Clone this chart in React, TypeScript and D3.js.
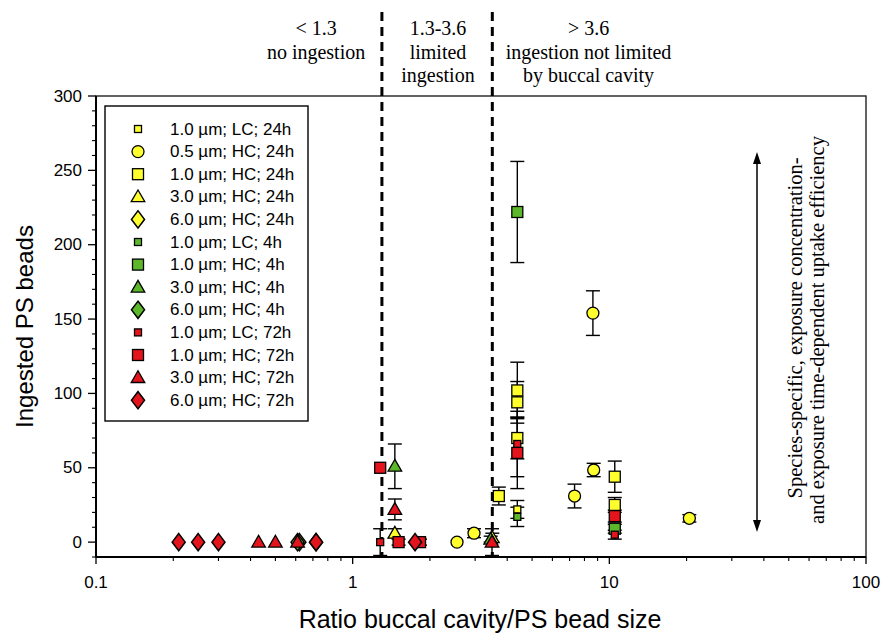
import React from "react";
import * as d3 from "d3";

type Pt = [number, number, number]; // [ratio, ingested beads, error]

// ---- data (ratio buccal cavity / bead size, ingested beads, SD) ----
const lc1_24h: Pt[] = [[4.38, 22, 6]];
const hc05_24h: Pt[] = [[2.55, 0, 0], [2.97, 6, 3], [7.32, 31, 8], [8.63, 154, 15], [8.69, 48.5, 4.5], [20.5, 16, 2.5]];
const hc1_24h: Pt[] = [[3.71, 31, 6], [4.38, 102, 19], [4.38, 94, 14], [4.38, 70, 14], [10.5, 44, 10.5], [10.5, 25, 5]];
const hc3_24h: Pt[] = [[1.46, 6, 3], [3.5, 3, 3]];
const hc6_24h: Pt[] = [[0.62, 0, 0]];
const lc1_4h: Pt[] = [[4.38, 17, 6.5]];
const hc1_4h: Pt[] = [[4.38, 222, 34], [10.5, 9, 3]];
const hc3_4h: Pt[] = [[1.46, 51, 15], [3.45, 2, 2]];
const hc6_4h: Pt[] = [[0.61, 0, 0], [0.72, 0, 0]];
const lc1_72h: Pt[] = [[1.28, 0, 9], [4.38, 66, 22], [10.5, 5, 3]];
const hc1_72h: Pt[] = [[1.28, 50, 0], [1.51, 0, 2], [1.83, 0, 2], [4.38, 60, 24], [10.5, 17.5, 4]];
const hc3_72h: Pt[] = [[0.43, 0, 0], [0.5, 0, 0], [0.61, 0, 0], [1.46, 22, 7], [3.49, 0, 9]];
const hc6_72h: Pt[] = [[0.21, 0, 0], [0.25, 0, 0], [0.3, 0, 0], [0.72, 0, 0], [1.75, 0, 0]];

const seriesLabels = [
  "1.0 µm; LC; 24h", "0.5 µm; HC; 24h", "1.0 µm; HC; 24h", "3.0 µm; HC; 24h", "6.0 µm; HC; 24h",
  "1.0 µm; LC; 4h", "1.0 µm; HC; 4h", "3.0 µm; HC; 4h", "6.0 µm; HC; 4h",
  "1.0 µm; LC; 72h", "1.0 µm; HC; 72h", "3.0 µm; HC; 72h", "6.0 µm; HC; 72h",
];
const seriesData = [lc1_24h, hc05_24h, hc1_24h, hc3_24h, hc6_24h, lc1_4h, hc1_4h, hc3_4h, hc6_4h, lc1_72h, hc1_72h, hc3_72h, hc6_72h];

const boundaries = [1.3, 3.5];
const zoneTitles = [["< 1.3", "no ingestion"], ["1.3-3.6", "limited", "ingestion"], ["> 3.6", "ingestion not limited", "by buccal cavity"]];
const zoneRatios = [0.72, 2.15, 8.3];
const xTickLabels = [0.1, 1, 10, 100];
const yTickLabels = [0, 50, 100, 150, 200, 250, 300];

// ---- styles ----
const YEL = "#ffff2e";
const GRN = "#5cb82a";
const RED = "#e3141c";
const colorOf = (i: number) => (i < 5 ? YEL : i < 9 ? GRN : RED);
const shapeOf = ["smallSq", "circle", "square", "triangle", "diamond", "smallSq", "square", "triangle", "diamond", "smallSq", "square", "triangle", "diamond"];

const W = 882, H = 635;
const x = d3.scaleLog().domain([0.1, 100]).range([96, 866]);
const y = d3.scaleLinear().domain([-10, 300]).range([557, 96]);

function Marker({ shape, cx, cy, fill }: { shape: string; cx: number; cy: number; fill: string }) {
  const st = { fill, stroke: "#000", strokeWidth: 1.3 };
  if (shape === "circle") return <circle cx={cx} cy={cy} r={6} {...st} />;
  if (shape === "square") return <rect x={cx - 5.5} y={cy - 5.5} width={11} height={11} {...st} />;
  if (shape === "smallSq") return <rect x={cx - 3.5} y={cy - 3.5} width={7} height={7} {...st} />;
  if (shape === "triangle") {
    const p = d3.symbol(d3.symbolTriangle, 80)()!;
    return <path d={p} transform={`translate(${cx},${cy + 1})`} {...st} />;
  }
  const p = d3.symbol(d3.symbolDiamond, 95)()!;
  return <path d={p} transform={`translate(${cx},${cy}) scale(1.25,0.95)`} {...st} />;
}

export default function App() {
  const majorX: number[] = [];
  const minorX: number[] = [];
  [0.1, 1, 10].forEach((dec) => {
    for (let k = 1; k <= 9; k++) (k === 1 ? majorX : minorX).push(k * dec);
  });
  majorX.push(100);
  const minorY = d3.range(-10, 301, 10).filter((v) => v % 50 !== 0);

  return (
    <svg width={W} height={H} style={{ position: "absolute", left: 0, top: 0, background: "#fff" }}
      fontFamily="'Liberation Sans', Arial, sans-serif">
      {/* frame */}
      <rect x={96} y={96} width={770} height={461} fill="none" stroke="#222" strokeWidth={1.4} />
      <line x1={96} x2={866} y1={557} y2={557} stroke="#000" strokeWidth={2} />
      <line x1={96} x2={96} y1={96} y2={557} stroke="#000" strokeWidth={2} />

      {/* x ticks */}
      {majorX.map((v) => (
        <line key={"xm" + v} x1={x(v)} x2={x(v)} y1={557} y2={564} stroke="#000" strokeWidth={1.3} />
      ))}
      {minorX.map((v) => (
        <line key={"xn" + v} x1={x(v)} x2={x(v)} y1={557} y2={561} stroke="#000" strokeWidth={1.1} />
      ))}
      {xTickLabels.map((v) => (
        <text key={"xl" + v} x={x(v)} y={588} fontSize={17} textAnchor="middle">{String(v)}</text>
      ))}
      {/* y ticks */}
      {yTickLabels.map((v) => (
        <line key={"ym" + v} x1={88} x2={96} y1={y(v)} y2={y(v)} stroke="#000" strokeWidth={1.3} />
      ))}
      {minorY.map((v) => (
        <line key={"yn" + v} x1={92} x2={96} y1={y(v)} y2={y(v)} stroke="#000" strokeWidth={1.1} />
      ))}
      {yTickLabels.map((v) => (
        <text key={"yl" + v} x={82} y={y(v)} fontSize={17} textAnchor="end" dominantBaseline="central">{v}</text>
      ))}

      {/* axis titles */}
      <text x={480} y={628} fontSize={25} textAnchor="middle">Ratio buccal cavity/PS bead size</text>
      <text transform={`translate(24,${(96 + 557) / 2}) rotate(-90)`} fontSize={24} textAnchor="middle" dominantBaseline="central">Ingested PS beads</text>

      {/* zone boundaries */}
      {boundaries.map((b) => (
        <line key={"b" + b} x1={x(b)} x2={x(b)} y1={12} y2={557} stroke="#000" strokeWidth={3} strokeDasharray="9,6" />
      ))}
      {zoneTitles.map((lines, i) => (
        <text key={"z" + i} x={x(zoneRatios[i])} fontSize={20} textAnchor="middle" fontFamily="'Liberation Serif', 'Times New Roman', serif">
          {lines.map((t, j) => (
            <tspan key={j} x={x(zoneRatios[i])} y={35 + j * 23.5}>{t}</tspan>
          ))}
        </text>
      ))}

      {/* double arrow + rotated note */}
      <line x1={757} x2={757} y1={160} y2={524} stroke="#000" strokeWidth={1.5} />
      <path d="M757,152 L753,164 L761,164 Z" fill="#000" />
      <path d="M757,532 L753,520 L761,520 Z" fill="#000" />
      <g fontFamily="'Liberation Serif', 'Times New Roman', serif" fontSize={20.5}>
        <text transform="translate(795,328) rotate(-90)" textAnchor="middle" dominantBaseline="central">Species-specific, exposure concentration-</text>
        <text transform="translate(817,330) rotate(-90)" textAnchor="middle" dominantBaseline="central">and exposure time-dependent uptake efficiency</text>
      </g>

      {/* error bars */}
      {seriesData.map((pts, i) =>
        pts.filter((p) => p[2] > 0).map((p, j) => {
          const cx = x(p[0]);
          const y0 = y(p[1] - p[2]);
          const y1 = y(p[1] + p[2]);
          return (
            <g key={`e${i}-${j}`} stroke="#000" strokeWidth={1.4}>
              <line x1={cx} x2={cx} y1={y0} y2={y1} />
              <line x1={cx - 7} x2={cx + 7} y1={y0} y2={y0} />
              <line x1={cx - 7} x2={cx + 7} y1={y1} y2={y1} />
            </g>
          );
        })
      )}
      {/* markers */}
      {seriesData.map((pts, i) =>
        pts.map((p, j) => (
          <Marker key={`m${i}-${j}`} shape={shapeOf[i]} cx={x(p[0])} cy={y(p[1])} fill={colorOf(i)} />
        ))
      )}

      {/* legend */}
      <rect x={105} y={106} width={203} height={315} fill="#fff" stroke="#000" strokeWidth={1.4} />
      {seriesLabels.map((lab, i) => {
        const ly = 129 + i * 22.6;
        return (
          <g key={"lg" + i}>
            <Marker shape={shapeOf[i]} cx={138} cy={ly} fill={colorOf(i)} />
            <text x={170} y={ly} fontSize={17} dominantBaseline="central">{lab}</text>
          </g>
        );
      })}
    </svg>
  );
}
